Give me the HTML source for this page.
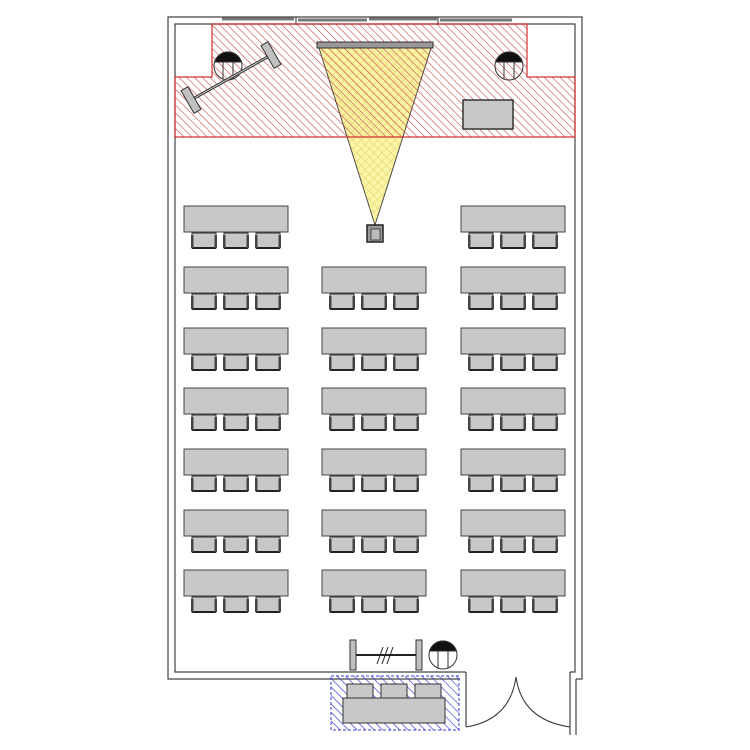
<!DOCTYPE html>
<html><head><style>body{margin:0;background:#fff}svg{display:block}</style></head><body>
<svg width="750" height="750" viewBox="0 0 750 750" xmlns="http://www.w3.org/2000/svg">
<defs>
<pattern id="rh" width="5.5" height="5.5" patternUnits="userSpaceOnUse" patternTransform="rotate(-45)">
<line x1="0" y1="0" x2="0" y2="6" stroke="#c43a3a" stroke-width="1.1"/></pattern>
<pattern id="bh" width="6" height="6" patternUnits="userSpaceOnUse" patternTransform="rotate(-45)">
<line x1="0" y1="0" x2="0" y2="6" stroke="#3b3bd0" stroke-width="1.3"/></pattern>
<pattern id="yh" width="6" height="6" patternUnits="userSpaceOnUse" patternTransform="rotate(45)">
<line x1="0" y1="0" x2="0" y2="6" stroke="#e0c860" stroke-width="0.8"/></pattern>
<pattern id="yh2" width="6" height="6" patternUnits="userSpaceOnUse" patternTransform="rotate(-45)">
<line x1="0" y1="0" x2="0" y2="6" stroke="#e0c860" stroke-width="0.8"/></pattern>
<g id="chair"><rect x="0" y="0" width="24" height="15" fill="#c8c8c8" stroke="#333" stroke-width="1"/><line x1="0" y1="15" x2="24" y2="15" stroke="#222" stroke-width="2"/><rect x="-1" y="2" width="2.5" height="13" fill="#444"/><rect x="22.5" y="2" width="2.5" height="13" fill="#444"/></g>
<g id="desk"><rect x="0" y="0" width="104" height="26" fill="#c8c8c8" stroke="#444"/><use href="#chair" x="8" y="27"/><use href="#chair" x="40" y="27"/><use href="#chair" x="72" y="27"/></g>
<g id="lect" stroke="#333"><circle cx="0" cy="0" r="14" fill="none"/><path d="M-13.4,-4 A14,14 0 0 1 13.4,-4 Z" fill="#111"/><line x1="-5" y1="-4" x2="-5" y2="13"/><line x1="5" y1="-4" x2="5" y2="13"/></g>
</defs>
<g fill="none" stroke="#444" stroke-width="1.2">
<polyline points="460,679 168,679 168,17 582,17 582,679 576,679"/>
<polyline points="460,672 175,672 175,24 575,24 575,672 570,672"/>
<line x1="570" y1="672" x2="570" y2="735"/><line x1="576" y1="679" x2="576" y2="735"/>
<line x1="460" y1="672" x2="466" y2="672"/><line x1="466" y1="672" x2="466" y2="727"/>
</g>
<g stroke="#777" stroke-width="3"><line x1="222" y1="19" x2="294" y2="19"/><line x1="298" y1="20" x2="367" y2="20"/><line x1="369" y1="19" x2="437" y2="19"/><line x1="440" y1="20" x2="512" y2="20"/></g>
<g stroke="#333"><line x1="296" y1="17" x2="296" y2="25"/><line x1="438" y1="17" x2="438" y2="25"/></g>
<polygon points="319,48 431,48 375,225" fill="#fbf5a6" stroke="#444"/>
<polygon points="319,48 431,48 375,225" fill="url(#yh)"/>
<polygon points="319,48 431,48 375,225" fill="url(#yh2)"/>
<polygon points="212,24 527,24 527,77 575,77 575,137 175,137 175,77 212,77" fill="url(#rh)" stroke="#d03030" stroke-width="1.2"/>
<rect x="317" y="42" width="116" height="6" fill="#999" stroke="#333"/>
<rect x="367" y="225" width="16" height="17" fill="#999" stroke="#222" stroke-width="1.5"/>
<rect x="371" y="229" width="9" height="11" fill="#bbb" stroke="#333" stroke-width="0.8"/>
<rect x="463" y="100" width="50" height="29" fill="#c8c8c8" stroke="#333" stroke-width="1.5"/>
<use href="#lect" x="228" y="66"/><use href="#lect" x="509" y="66"/>
<line x1="191" y1="100" x2="271" y2="55" stroke="#333" stroke-width="3"/><line x1="191" y1="100" x2="271" y2="55" stroke="#ccc" stroke-width="1"/>
<rect x="-4" y="-13" width="8" height="26" fill="#c0c0c0" stroke="#333" transform="translate(191,100) rotate(-30)"/>
<rect x="-4" y="-13" width="8" height="26" fill="#c0c0c0" stroke="#333" transform="translate(271,55) rotate(-30)"/>
<use href="#desk" x="184" y="206"/><use href="#desk" x="461" y="206"/>
<use href="#desk" x="184" y="267"/><use href="#desk" x="322" y="267"/><use href="#desk" x="461" y="267"/>
<use href="#desk" x="184" y="328"/><use href="#desk" x="322" y="328"/><use href="#desk" x="461" y="328"/>
<use href="#desk" x="184" y="388"/><use href="#desk" x="322" y="388"/><use href="#desk" x="461" y="388"/>
<use href="#desk" x="184" y="449"/><use href="#desk" x="322" y="449"/><use href="#desk" x="461" y="449"/>
<use href="#desk" x="184" y="510"/><use href="#desk" x="322" y="510"/><use href="#desk" x="461" y="510"/>
<use href="#desk" x="184" y="570"/><use href="#desk" x="322" y="570"/><use href="#desk" x="461" y="570"/>
<line x1="353" y1="655" x2="419" y2="655" stroke="#222" stroke-width="2"/>
<rect x="350" y="640" width="6" height="30" fill="#c0c0c0" stroke="#333"/><rect x="416" y="640" width="6" height="30" fill="#c0c0c0" stroke="#333"/>
<g stroke="#222"><line x1="377" y1="664" x2="383" y2="647"/><line x1="382" y1="664" x2="388" y2="647"/><line x1="387" y1="664" x2="393" y2="647"/></g>
<use href="#lect" x="443" y="655"/>
<rect x="331" y="676" width="128" height="54" fill="url(#bh)" stroke="#3b3bd0" stroke-dasharray="3,2"/>
<g fill="#c8c8c8" stroke="#333"><rect x="347" y="684" width="26" height="14"/><rect x="381" y="684" width="26" height="14"/><rect x="415" y="684" width="26" height="14"/>
<rect x="343" y="698" width="102" height="25"/></g>
<g fill="none" stroke="#333"><path d="M466,727 Q510,720 516,677"/><path d="M570,727 Q522,720 516,677"/></g>
</svg>
</body></html>
